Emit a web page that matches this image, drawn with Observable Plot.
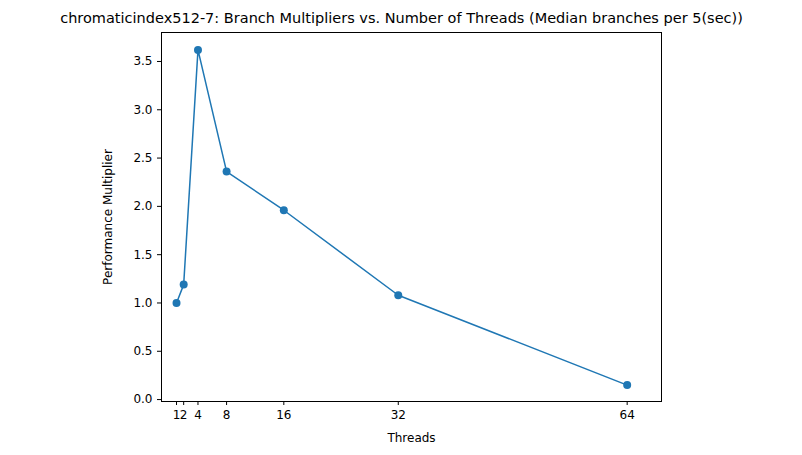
<!DOCTYPE html>
<html><head>
<script src="https://cdn.jsdelivr.net/npm/d3@7"></script>
<script src="https://cdn.jsdelivr.net/npm/@observablehq/plot@0.6"></script>
<style>body{margin:0;background:#fff;font-family:"DejaVu Sans",sans-serif}</style>
</head><body><div id="c"></div>
<script>
const threads = [1, 2, 4, 8, 16, 32, 64];
const multipliers = [1.0, 1.19, 3.62, 2.36, 1.96, 1.08, 0.15];
const yTicks = [0, 0.5, 1, 1.5, 2, 2.5, 3, 3.5];
const title = "chromaticindex512-7: Branch Multipliers vs. Number of Threads (Median branches per 5(sec))";
const data = threads.map((t, i) => ({t, m: multipliers[i]}));
const chart = Plot.plot({
  width: 802, height: 455,
  marginLeft: 161, marginRight: 141, marginTop: 32, marginBottom: 54,
  style: {fontFamily: "DejaVu Sans", fontSize: "12px", color: "#000", background: "#fff"},
  x: {domain: [-1.1, 68.8], ticks: threads, tickFormat: d => d, label: "Threads", labelAnchor: "center", labelArrow: "none", labelOffset: 40, tickSize: 4},
  y: {domain: [-0.02, 3.8], ticks: yTicks, tickFormat: d => d.toFixed(1), label: "Performance Multiplier", labelAnchor: "center", labelArrow: "none", labelOffset: 58, tickSize: 4},
  marks: [
    Plot.frame({stroke: "#000"}),
    Plot.line(data, {x: "t", y: "m", stroke: "#1f77b4", strokeWidth: 1.5}),
    Plot.dot(data, {x: "t", y: "m", fill: "#1f77b4", r: 4}),
    Plot.text([title], {frameAnchor: "top", dy: -20, text: d => d, fontSize: 14.5, fill: "#000", dx: -10})
  ]
});
document.getElementById("c").appendChild(chart);
</script></body></html>
